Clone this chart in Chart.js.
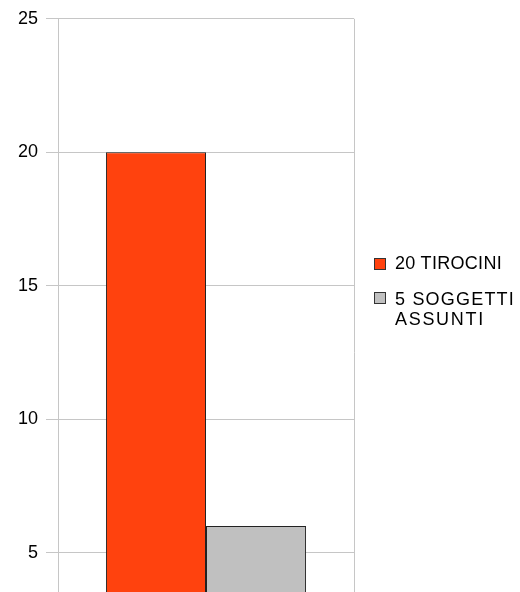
<!DOCTYPE html>
<html><head><meta charset="utf-8">
<script src="https://cdn.jsdelivr.net/npm/chart.js@4/dist/chart.umd.min.js"></script>
<style>
html,body{margin:0;padding:0;background:#fff;overflow:hidden;width:520px;height:592px;}
#wrap{position:relative;width:520px;height:705px;}
canvas{position:absolute;left:0;top:0;}
.leg{position:absolute;font-family:"Liberation Sans",Arial,sans-serif;font-size:18px;color:#000;line-height:20px;white-space:nowrap;}
.sw{position:absolute;width:10px;height:10px;border:1px solid #333;}
</style></head>
<body>
<div id="wrap">
<canvas id="c" width="520" height="705"></canvas>
<div id="legend"></div>
</div>
<script>
const categories = [""];
const seriesNames = ["20 TIROCINI", "5 SOGGETTI ASSUNTI"];
const seriesValues = [[20], [6]];
const seriesColors = ["#ff420e", "#c0c0c0"];
const yTicks = [0, 5, 10, 15, 20, 25];

const gridColor = "#c6c6c6";
new Chart(document.getElementById('c'), {
  type: 'bar',
  data: {
    labels: categories,
    datasets: seriesNames.map((n, i) => ({
      label: n,
      data: seriesValues[i],
      backgroundColor: seriesColors[i],
      borderColor: "#222",
      borderWidth: 1,
      borderSkipped: false,
      categoryPercentage: 0.676,
      barPercentage: 1.0
    }))
  },
  options: {
    responsive: false,
    animation: false,
    devicePixelRatio: 1,
    layout: {padding: {left: 0, right: 166, top: 11, bottom: 0}},
    plugins: {legend: {display: false}, tooltip: {enabled: false}},
    scales: {
      x: {
        grid: {offset: true, color: gridColor, drawTicks: false, lineWidth: 1},
        ticks: {display: false},
        border: {display: false}
      },
      y: {
        min: 0, max: 25,
        afterBuildTicks: (s) => { s.ticks = yTicks.map(v => ({value: v})); },
        afterFit: (s) => { s.width = 58; },
        grid: {color: gridColor, tickLength: 12, lineWidth: 1},
        border: {color: gridColor},
        ticks: {
          padding: 8,
          color: "#000",
          font: {family: "Liberation Sans", size: 18}
        }
      }
    }
  }
});

const leg = document.getElementById('legend');
const legendLines = [["20 TIROCINI"], ["5 SOGGETTI", "ASSUNTI"]];
const lineSpacing = [[0.3], [1.2, 1.7]];
const legTops = [253, 289];
const swTops = [258, 292];
seriesNames.forEach((n, i) => {
  const sw = document.createElement('div');
  sw.className = 'sw';
  sw.style.left = '374px';
  sw.style.top = swTops[i] + 'px';
  sw.style.background = seriesColors[i];
  leg.appendChild(sw);
  const t = document.createElement('div');
  t.className = 'leg';
  t.style.left = '395px';
  t.style.top = legTops[i] + 'px';
  legendLines[i].forEach((ln, j) => {
    const s = document.createElement('div');
    s.textContent = ln;
    s.style.letterSpacing = lineSpacing[i][j] + 'px';
    t.appendChild(s);
  });
  leg.appendChild(t);
});
</script>
</body></html>
